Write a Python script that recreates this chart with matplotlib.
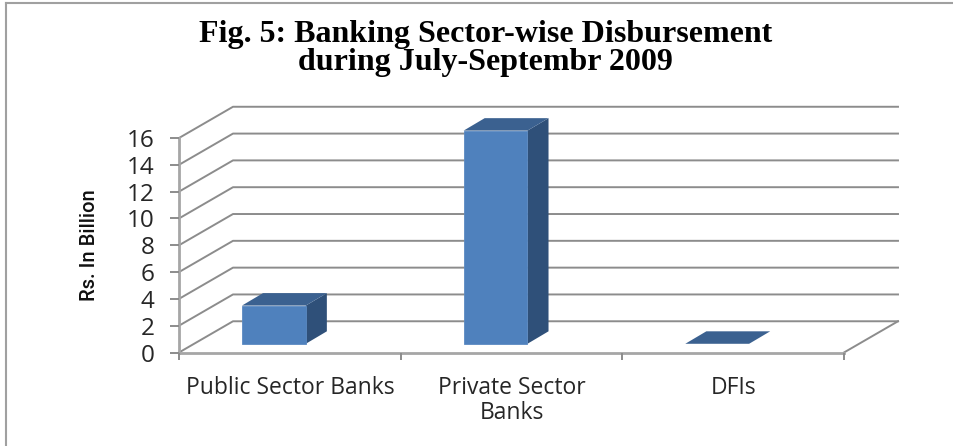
import matplotlib
matplotlib.use("Agg")
import matplotlib.pyplot as plt
from matplotlib.patches import Polygon

categories = ['Public Sector Banks', 'Private Sector\nBanks', 'DFIs']
values = [2.85, 15.9, 0.0]
yticks = [0, 2, 4, 6, 8, 10, 12, 14, 16]

W, H = 954, 446
GRID = '#8c8c8c'
FRONT = '#4f81bd'
TOP = '#3b6190'
SIDE = '#2f5079'

# depth of the fake 3d box, in data units
DX, DY = 0.2436, 2.33
# bars sit a bit inside the floor
BAR_W = 0.288
BAR_SHIFT = -0.072
BAR_BASE = 0.65
BAR_DX, BAR_DY = 0.095, 0.93

fig = plt.figure(figsize=(W / 100, H / 100), dpi=100)
ax = fig.add_axes([179 / W, 1 - 352.5 / H, (844 - 179) / W, (352.5 - 138) / H])
ax.set_xlim(-0.5, 2.5)
ax.set_ylim(0, 16)
for s in ax.spines.values():
    s.set_visible(False)
ax.patch.set_visible(False)

# gridlines and side wall
for v in yticks:
    ax.plot([-0.5, -0.5 + DX, 2.5 + DX], [v, v + DY, v + DY],
            color=GRID, lw=1.4, clip_on=False, zorder=1)
ax.plot([2.5, 2.5 + DX], [0, DY], color=GRID, lw=1.4, clip_on=False, zorder=1)
ax.plot([-0.5, 2.5], [0, 0], color='#a6a6a6', lw=2, clip_on=False, zorder=1)
ax.plot([-0.5, -0.5], [0, 16], color='#a6a6a6', lw=2, clip_on=False, zorder=1)

# bars
for i, v in enumerate(values):
    x0 = i + BAR_SHIFT - BAR_W / 2
    x1 = x0 + BAR_W
    b = BAR_BASE
    t = b + v
    if v > 0:
        ax.add_patch(Polygon([(x1, b), (x1 + BAR_DX, b + BAR_DY), (x1 + BAR_DX, t + BAR_DY), (x1, t)],
                             fc=SIDE, ec='none', clip_on=False, zorder=3))
        ax.add_patch(Polygon([(x0, b), (x1, b), (x1, t), (x0, t)],
                             fc=FRONT, ec='#5b8ac2', lw=0.6, clip_on=False, zorder=3))
    ax.add_patch(Polygon([(x0, t), (x1, t), (x1 + BAR_DX, t + BAR_DY), (x0 + BAR_DX, t + BAR_DY)],
                         fc=TOP, ec='none', clip_on=False, zorder=3))

# ticks
ax.set_yticks(yticks)
ax.set_xticks([-0.5, 0.5, 1.5, 2.5])
ax.set_xticklabels([])
ax.tick_params(axis='x', color='#8c8c8c', width=1.4, length=5)
ax.tick_params(axis='y', color='#8c8c8c', width=1.4, length=6.5, labelsize=17.5,
               labelcolor='#262626', pad=11)
for lab in ax.get_yticklabels():
    lab.set_family('Open Sans')
for i, c in enumerate(categories):
    ax.annotate(c, (i, 0), xytext=(0, -16.7), textcoords='offset points', ha='center', va='top',
                fontsize=16.5, family='Open Sans', color='#262626', linespacing=1.05)

ax.set_ylabel('Rs. In Billion', fontsize=14.5, fontweight='medium', family='Roboto',
              color='#111111')
ax.yaxis.set_label_coords(-0.121, 0.5)

fig.text(485.5 / W, 1 - 48.5 / H, 'Fig. 5: Banking Sector-wise Disbursement\nduring July-Septembr 2009',
         ha='center', va='center', family='Liberation Serif', fontweight='bold', fontsize=23,
         linespacing=0.97, color='#000000')

# outer frame
fig.add_artist(plt.Line2D([6 / W, 6 / W], [0, 1 - 3 / H], color='#a0a0a0', lw=1.5))
fig.add_artist(plt.Line2D([6 / W, 1], [1 - 3 / H, 1 - 3 / H], color='#a0a0a0', lw=1.5))

fig.savefig('out.png', dpi=100)
